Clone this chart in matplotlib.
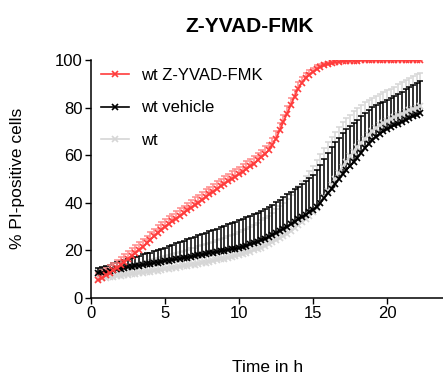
import numpy as np
import matplotlib
matplotlib.use("Agg")
import matplotlib.pyplot as plt

plt.rcParams["font.family"] = ["Liberation Sans", "DejaVu Sans"]

# sampling times (every 15 min)
time_h = np.arange(0.5, 22.26, 0.25)

yvad_mean = [7.5, 8.5, 9.5, 10.6, 11.7, 12.8, 14.0, 15.2, 16.5, 17.7, 19.0, 20.3, 21.6, 23.0, 24.5,
             25.9, 27.3, 28.7, 30.0, 31.1, 32.2, 33.4, 34.5, 35.6, 36.8, 37.9, 39.0, 40.1, 41.3, 42.4,
             43.5, 44.6, 45.8, 46.9, 48.0, 49.0, 50.0, 51.0, 52.0, 53.1, 54.2, 55.3, 56.5, 57.8, 59.1,
             60.5, 62.0, 64.3, 67.0, 70.4, 74.0, 77.5, 81.0, 84.6, 88.0, 90.5, 92.5, 93.9, 95.0, 96.1,
             97.0, 97.7, 98.2, 98.6, 99.0, 99.2, 99.4, 99.5, 99.6, 99.7, 99.7, 99.8, 99.8, 99.8, 99.8,
             99.9, 99.8, 99.9, 99.9, 99.8, 99.9, 99.9, 99.9, 99.8, 99.9, 99.9, 99.9, 99.9]
yvad_err = [3.0, 3.1, 3.0, 3.2, 3.1, 3.0, 3.2, 3.1, 3.3, 3.2, 3.1, 3.3, 3.2, 3.1, 3.3,
            3.2, 3.3, 3.1, 3.2, 3.3, 3.2, 3.1, 3.3, 3.2, 3.1, 3.2, 3.3, 3.1, 3.2, 3.3,
            3.2, 3.1, 3.2, 3.3, 3.2, 3.1, 3.2, 3.3, 3.1, 3.2, 3.2, 3.1, 3.3, 3.2, 3.1,
            3.2, 3.1, 3.0, 3.1, 3.0, 2.9, 3.0, 2.9, 2.9, 2.8, 2.5, 2.2, 2.0, 1.8, 1.6,
            1.4, 1.2, 1.0, 0.9, 0.8, 0.7, 0.6, 0.5, 0.4, 0.4, 0.3, 0.3, 0.3, 0.3, 0.3,
            0.3, 0.3, 0.3, 0.3, 0.3, 0.3, 0.3, 0.3, 0.3, 0.3, 0.3, 0.3, 0.3]

vehicle_mean = [10.5, 10.7, 11.0, 11.3, 11.7, 12.0, 12.3, 12.6, 12.9, 13.1, 13.4, 13.6, 13.9, 14.1, 14.3,
                14.6, 14.9, 15.2, 15.5, 15.7, 16.0, 16.2, 16.5, 16.8, 17.0, 17.3, 17.6, 17.9, 18.2, 18.5,
                18.8, 19.1, 19.3, 19.6, 19.9, 20.2, 20.4, 20.7, 21.0, 21.5, 22.0, 22.5, 23.0, 23.6, 24.2,
                24.9, 25.5, 26.4, 27.2, 28.1, 29.0, 30.0, 31.0, 32.0, 33.0, 34.0, 35.0, 36.0, 37.0, 38.4,
                40.0, 42.0, 44.0, 46.0, 48.0, 50.0, 52.0, 53.8, 55.5, 57.3, 59.0, 61.0, 63.0, 64.8, 66.5,
                67.8, 69.0, 70.0, 71.0, 71.8, 72.5, 73.2, 74.0, 74.8, 75.5, 76.3, 77.0, 77.7]
vehicle_err = [2.0, 2.2, 2.4, 2.6, 2.8, 3.0, 3.2, 3.4, 3.6, 3.8, 4.0, 4.2, 4.4, 4.6, 4.8,
               5.0, 5.2, 5.4, 5.6, 6.0, 6.3, 6.7, 7.0, 7.3, 7.6, 7.8, 8.1, 8.4, 8.7, 9.0,
               9.3, 9.6, 9.9, 10.2, 10.5, 10.8, 11.1, 11.4, 11.7, 11.9, 12.0, 12.1, 12.2, 12.3, 12.4,
               12.5, 12.6, 12.8, 13.0, 13.2, 13.4, 13.5, 13.6, 13.7, 13.8, 13.9, 14.0, 14.3, 14.6, 15.2,
               15.8, 16.4, 17.0, 17.3, 17.5, 17.4, 17.2, 17.0, 16.7, 16.4, 16.0, 15.4, 14.8, 14.2, 13.6,
               13.2, 12.8, 12.5, 12.3, 12.3, 12.4, 12.5, 12.7, 12.9, 13.1, 13.3, 13.5, 13.6]

wt_mean = [8.0, 8.2, 8.5, 8.7, 8.9, 9.1, 9.3, 9.5, 9.7, 10.0, 10.2, 10.4, 10.6, 10.8, 11.0,
           11.3, 11.5, 11.8, 12.0, 12.3, 12.5, 12.8, 13.0, 13.3, 13.5, 13.8, 14.0, 14.3, 14.6, 14.9,
           15.2, 15.5, 15.8, 16.2, 16.5, 16.9, 17.2, 17.6, 18.0, 18.5, 19.0, 19.5, 20.0, 20.6, 21.2,
           21.9, 22.5, 23.4, 24.2, 25.1, 26.0, 27.1, 28.2, 29.4, 30.5, 31.8, 33.2, 34.6, 36.0, 38.0,
           40.0, 42.5, 45.0, 47.5, 50.0, 52.5, 55.0, 57.3, 59.5, 61.5, 63.5, 65.3, 67.0, 68.5, 70.0,
           71.3, 72.5, 73.5, 74.5, 75.3, 76.0, 76.8, 77.5, 78.2, 78.8, 79.4, 80.0, 80.5]
wt_err = [3.0, 3.1, 3.2, 3.3, 3.4, 3.5, 3.6, 3.8, 3.9, 4.0, 4.2, 4.3, 4.5, 4.6, 4.8,
          5.0, 5.2, 5.4, 5.6, 5.8, 6.0, 6.2, 6.4, 6.6, 6.8, 7.0, 7.2, 7.4, 7.6, 7.8,
          8.0, 8.2, 8.4, 8.6, 8.8, 9.0, 9.2, 9.4, 9.6, 9.9, 10.2, 10.5, 10.8, 11.1, 11.4,
          11.7, 12.0, 12.5, 13.0, 13.5, 14.0, 14.6, 15.2, 15.8, 16.4, 17.2, 18.0, 18.8, 19.5, 20.0,
          20.4, 20.6, 20.5, 20.2, 19.8, 19.3, 18.8, 18.2, 17.6, 17.0, 16.4, 15.8, 15.2, 14.6, 14.1,
          13.6, 13.2, 12.9, 12.7, 12.7, 12.8, 13.0, 13.2, 13.4, 13.6, 13.8, 14.0, 14.1]

series = [
    ("wt Z-YVAD-FMK", yvad_mean, yvad_err, "#FF3C3C", "#FF8A8A"),
    ("wt vehicle", vehicle_mean, vehicle_err, "black", "black"),
    ("wt", wt_mean, wt_err, "#D6D6D6", "#D6D6D6"),
]

W, H = 443, 374
fig = plt.figure(figsize=(W / 100, H / 100), dpi=100)
ax = fig.add_axes([91 / W, 1 - 298 / H, 1 - 91 / W, (298 - 60) / H])

handles = []
for label, mean, err, color, ecolor in reversed(series):
    mean = np.asarray(mean); err = np.asarray(err)
    ax.vlines(time_h, mean, mean + err, color=ecolor, lw=1.1, zorder=2)
    ax.plot(time_h, mean + err, ls="none", marker="_", ms=4, mew=1.1, color=ecolor, zorder=2)
    h, = ax.plot(time_h, mean, color=color, lw=1.2, marker="x", ms=4.5, mew=1.2, label=label, zorder=3)
    handles.append(h)
handles = handles[::-1]

ax.set_xlim(0, 352 / 14.8)
ax.set_ylim(0, 100)
ax.set_xticks([0, 5, 10, 15, 20])
ax.set_yticks([0, 20, 40, 60, 80, 100])
for s in ("top", "right"):
    ax.spines[s].set_visible(False)
for s in ("left", "bottom"):
    ax.spines[s].set_linewidth(1.1)
ax.tick_params(labelsize=12, length=4, width=1.0, pad=2)

leg = ax.legend(handles=handles, loc="upper left", bbox_to_anchor=(101 / W, 1 - 68 / H),
                bbox_transform=fig.transFigure, frameon=False, fontsize=12, handlelength=1.65,
                handletextpad=0.75, labelspacing=1.05, borderpad=0, borderaxespad=0)

fig.text(250 / W, 1 - 32 / H, "Z-YVAD-FMK", fontsize=15, fontweight="bold", ha="center", va="baseline")
fig.text(268 / W, 1 - 372 / H, "Time in h", fontsize=12.5, ha="center", va="baseline")
fig.text(18 / W, 1 - 178 / H, "% PI-positive cells", fontsize=12.5, rotation=90, ha="center", va="center")

fig.savefig("out.png", dpi=100)
